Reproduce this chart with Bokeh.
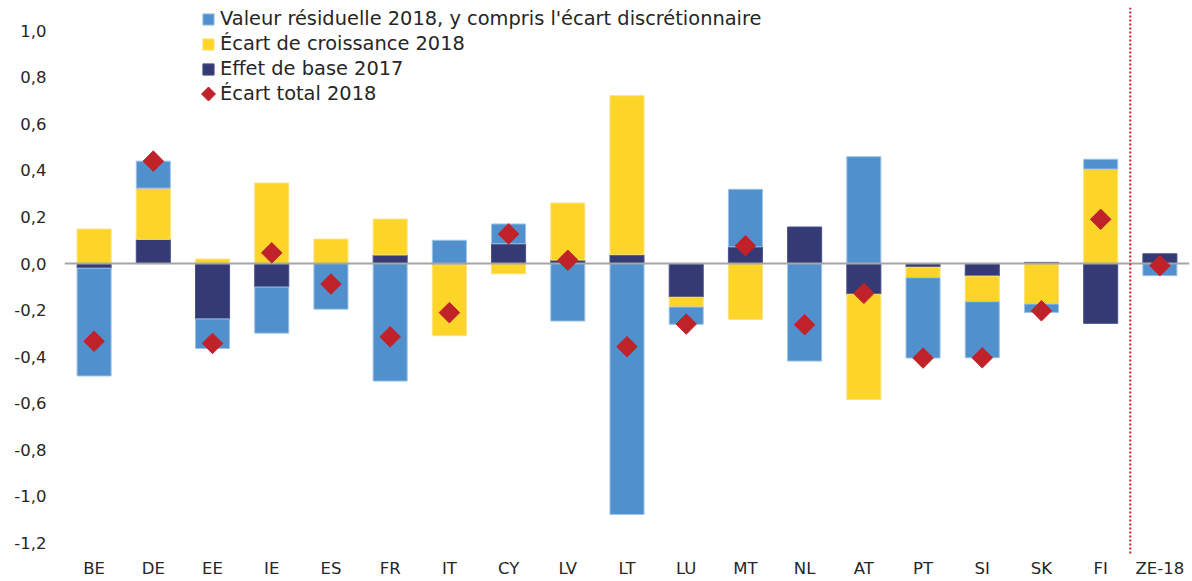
import numpy as np
from bokeh.plotting import figure
from bokeh.models import (ColumnDataSource, FactorRange, Range1d, Span, Legend, LegendItem,
                          FixedTicker, CustomJSTickFormatter, PolyAnnotation)
from bokeh.embed import file_html
from bokeh.resources import INLINE

categories = ["BE", "DE", "EE", "IE", "ES", "FR", "IT", "CY", "LV", "LT",
              "LU", "MT", "NL", "AT", "PT", "SI", "SK", "FI", "ZE-18"]
effet_base_2017 = [-0.020, 0.104, -0.238, -0.101, 0.000, 0.037, -0.005, 0.085, 0.015, 0.038,
                   -0.145, 0.072, 0.157, -0.132, -0.016, -0.054, 0.005, -0.257, 0.042]
ecart_croissance_2018 = [0.148, 0.220, 0.019, 0.346, 0.105, 0.154, -0.305, -0.044, 0.245, 0.683,
                         -0.042, -0.240, 0.000, -0.452, -0.045, -0.110, -0.174, 0.406, 0.000]
valeur_residuelle_2018 = [-0.463, 0.116, -0.127, -0.198, -0.196, -0.505, 0.100, 0.085, -0.247, -1.078,
                          -0.074, 0.247, -0.419, 0.459, -0.345, -0.241, -0.036, 0.042, -0.052]
ecart_total_2018 = [-0.334, 0.440, -0.343, 0.046, -0.088, -0.315, -0.211, 0.127, 0.014, -0.357,
                    -0.260, 0.076, -0.263, -0.128, -0.406, -0.405, -0.203, 0.190, -0.009]
y_ticks = [-1.2, -1.0, -0.8, -0.6, -0.4, -0.2, 0.0, 0.2, 0.4, 0.6, 0.8, 1.0]

series = [
    ("Effet de base 2017", effet_base_2017, "#343b74", "#4a5088"),
    ("Écart de croissance 2018", ecart_croissance_2018, "#fdd528", "#fde27a"),
    ("Valeur résiduelle 2018, y compris l'écart discrétionnaire", valeur_residuelle_2018, "#5091cd", "#9cc2e6"),
]

FONT = "DejaVu Sans"
TXT = "#262626"
RED = "#c0222a"
FRAME_H = 547
TOP = 7

p = figure(x_range=FactorRange(*categories), y_range=Range1d(-1.25, 1.1),
           frame_width=1125, frame_height=FRAME_H,
           min_border_left=64, min_border_right=3, min_border_top=TOP, min_border_bottom=20,
           output_backend="svg", toolbar_location=None)
p.outline_line_color = None
p.xgrid.visible = False
p.ygrid.visible = False
p.background_fill_color = "white"

n = len(categories)
pos_base = np.zeros(n)
neg_base = np.zeros(n)
renderers = {}
for name, vals, color, edge in series:
    v = np.array(vals, dtype=float)
    bottom = np.where(v >= 0, pos_base, neg_base)
    top = bottom + v
    pos_base = np.where(v >= 0, top, pos_base)
    neg_base = np.where(v < 0, top, neg_base)
    edge_alpha = np.where(v == 0, 0.0, 1.0)
    src = ColumnDataSource(dict(cat=categories, top=top, bottom=bottom, ea=edge_alpha))
    r = p.vbar(x="cat", top="top", bottom="bottom", width=0.575, source=src,
               fill_color=color, line_color=edge, line_alpha="ea", line_width=1)
    renderers[name] = r

zero = Span(location=0, dimension="width", line_color="#a6a6a6", line_width=2)
p.add_layout(zero)

sep = Span(location=len(categories) - 1, dimension="height", line_color="#c8202a",
           line_width=2, line_dash="2 2")
p.add_layout(sep)

dsrc = ColumnDataSource(dict(cat=categories, total=ecart_total_2018))
diam = p.scatter(x="cat", y="total", source=dsrc, marker="square", size=14.5,
                 angle=np.pi / 4, fill_color=RED, line_color=RED, level="overlay")
# legend-only placeholder (NaN value, fully transparent)
leg_src = ColumnDataSource(dict(cat=[categories[0]], total=[float("nan")]))
diam_leg = p.scatter(x="cat", y="total", source=leg_src, marker="square", size=10,
                     fill_alpha=0, line_alpha=0)

p.yaxis.ticker = FixedTicker(ticks=y_ticks)
p.yaxis.formatter = CustomJSTickFormatter(code="return tick.toFixed(1).replace('.', ',');")
for ax in (p.xaxis, p.yaxis):
    ax.axis_line_color = None
    ax.major_tick_line_color = None
    ax.minor_tick_line_color = None
    ax.major_label_text_font = FONT
    ax.major_label_text_font_size = "16.5px"
    ax.major_label_text_color = TXT
p.yaxis.major_label_standoff = 12
p.xaxis.major_label_standoff = -2

ROW = 25
legend = Legend(items=[
    LegendItem(label=series[2][0], renderers=[renderers[series[2][0]]]),
    LegendItem(label=series[1][0], renderers=[renderers[series[1][0]]]),
    LegendItem(label=series[0][0], renderers=[renderers[series[0][0]]]),
    LegendItem(label="Écart total 2018", renderers=[diam_leg]),
])
legend.label_text_font = FONT
legend.label_text_font_size = "19.4px"
legend.label_text_color = TXT
legend.padding = 0
legend.margin = 0
legend.border_line_color = None
legend.background_fill_alpha = 0
legend.label_height = ROW
legend.spacing = 0
legend.glyph_width = 14
legend.glyph_height = 14
legend.label_standoff = 5
LEG_X = 137
LEG_TOP = 6  # page y of the legend's top edge
legend.location = (LEG_X, FRAME_H + TOP - LEG_TOP - 4 * ROW)
p.add_layout(legend)

# diamond key for the last legend row, drawn in frame screen units (y up from frame bottom)
cx = LEG_X + 7
cy = FRAME_H + TOP - (LEG_TOP + 3.5 * ROW)
h = 7
key = PolyAnnotation(xs=[cx - h, cx, cx + h, cx], ys=[cy, cy + h, cy, cy - h],
                     xs_units="screen", ys_units="screen",
                     fill_color=RED, fill_alpha=1, line_color=RED, line_alpha=1, line_width=1)
p.add_layout(key)

open("out.html", "w").write(file_html(p, INLINE))
